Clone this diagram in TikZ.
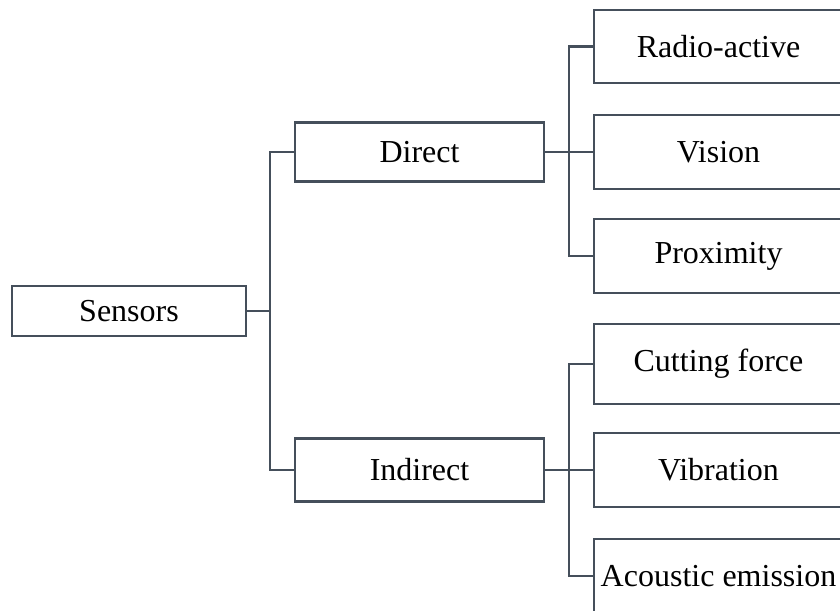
\documentclass[tikz,border=0pt]{standalone}
\usepackage{fontspec}
\setmainfont{Liberation Serif}
\definecolor{linec}{HTML}{454F5B}
\tikzset{
  box/.style={draw=linec, line width=2.1pt, fill=white, minimum width=249pt, inner sep=0pt, font=\fontsize{32}{38}\selectfont, text=black},
  conn/.style={draw=linec, line width=2.1pt}
}
\begin{document}
\begin{tikzpicture}[x=1pt,y=1pt]
\useasboundingbox (0,0) rectangle (840,610);
\clip (0,0) rectangle (840,610);
\fill[white] (0,0) rectangle (840,610);
% level 0
\node[box, minimum width=234pt, minimum height=50pt] (sensors) at (129,299) {Sensors};
% level 1
\node[box, minimum height=59pt] (direct) at (419.5,458) {Direct};
\node[box, minimum height=63pt] (indirect) at (419.5,140) {Indirect};
% level 2
\node[box, minimum height=73pt] (radio) at (718.5,563.5) {Radio-active};
\node[box, minimum height=74pt] (vision) at (718.5,458) {Vision};
\node[box, minimum height=74pt] (prox) at (718.5,354) {Proximity};
\node[box, minimum height=80pt] (cutting) at (718.5,246) {Cutting force};
\node[box, minimum height=74pt] (vibration) at (718.5,140) {Vibration};
\node[box, minimum height=74pt] (acoustic) at (718.5,34) {Acoustic emission};
% junctions
\coordinate (j0) at (270,299);
\coordinate (j1) at (569,458);
\coordinate (j2) at (569,140);
% connectors
\draw[conn] (sensors.east) -- (j0);
\draw[conn] (direct.west) -| (j0);
\draw[conn] (indirect.west) -| (j0);
\draw[conn] (direct.east) -- (vision.west);
\draw[conn] (radio.west) -| (j1);
\draw[conn] (prox.west) -| (j1);
\draw[conn] (indirect.east) -- (vibration.west);
\draw[conn] (cutting.west) -| (j2);
\draw[conn] (acoustic.west) -| (j2);
\end{tikzpicture}
\end{document}
